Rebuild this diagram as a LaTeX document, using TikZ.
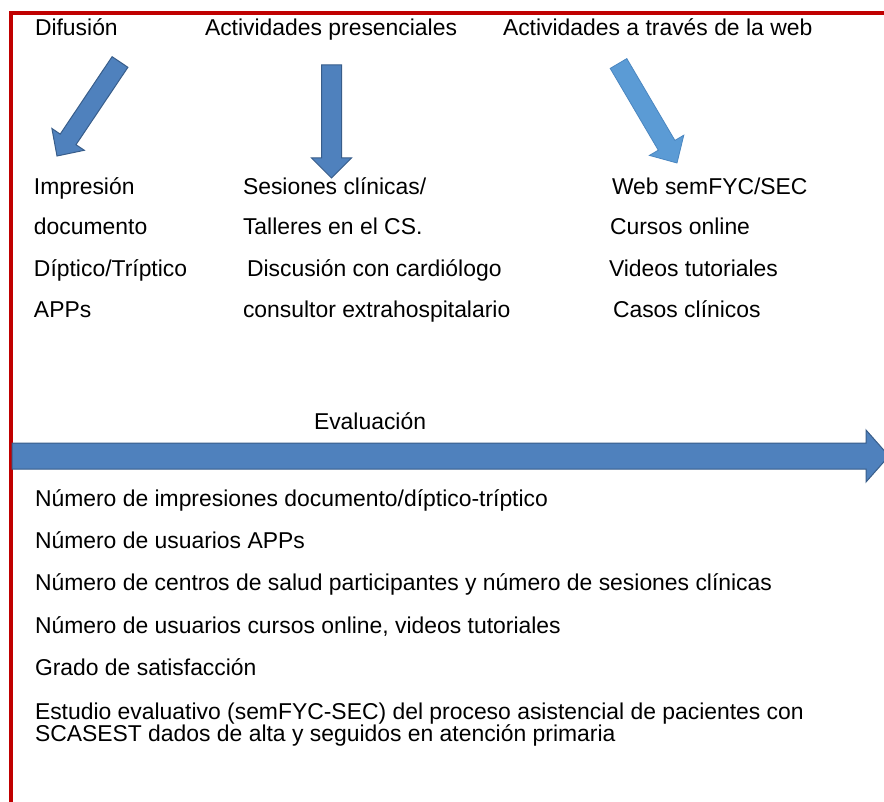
\documentclass[tikz,border=0pt]{standalone}
\usepackage{fontspec}
\setmainfont{Liberation Sans}
\definecolor{frameRed}{HTML}{C00000}
\definecolor{arrFill}{HTML}{4F81BD}
\definecolor{arrLine}{HTML}{385D8A}
\definecolor{webFill}{HTML}{5B9BD5}
\definecolor{webLine}{HTML}{4A86C0}
\tikzset{
  txt/.style={anchor=base west, inner sep=0pt, outer sep=0pt, font=\fontsize{22.9}{27}\selectfont},
  blockarrow/.style={fill=arrFill, draw=arrLine, line width=1pt, line join=miter},
  webarrow/.style={fill=webFill, draw=webLine, line width=0.8pt, line join=miter},
  frameline/.style={draw=frameRed, line width=3.6pt}
}
\begin{document}
\begin{tikzpicture}[x=1pt,y=-1pt]
\useasboundingbox (0,0) rectangle (884,802);
\fill[white] (0,0) rectangle (884,802);
% red frame
\draw[frameline] (11,815) -- (11,13) -- (900,13);
% headers
\node[txt] (h1) at (35,36) {Difusión};
\node[txt] (h2) at (205,36) {Actividades presenciales};
\node[txt] (h3) at (503,36) {Actividades a través de la web};
% arrows
\draw[blockarrow] (127.9,67.3) -- (76.0,144.7) -- (84.3,150.3) -- (57,156) -- (51.9,128.5) -- (60.2,134.1) -- (112.1,56.7) -- cycle;
\draw[blockarrow] (321.5,65) -- (341.5,65) -- (341.5,158) -- (351.5,158) -- (331.5,178) -- (311.5,158) -- (321.5,158) -- cycle;
\draw[webarrow] (626.8,58.6) -- (674.9,140.4) -- (683.8,135.2) -- (677,163) -- (649.4,155.4) -- (658.3,150.2) -- (610.2,68.4) -- cycle;
% column 1
\node[txt] (c11) at (34,195) {Impresión};
\node[txt] (c12) at (34,235) {documento};
\node[txt] (c13) at (34,276.5) {Díptico/Tríptico};
\node[txt] (c14) at (34,317.5) {APPs};
% column 2
\node[txt] (c21) at (243,195) {Sesiones clínicas/};
\node[txt] (c22) at (243,235) {Talleres en el CS.};
\node[txt] (c23) at (247,276.5) {Discusión con cardiólogo};
\node[txt] (c24) at (243,317.5) {consultor extrahospitalario};
% column 3
\node[txt] (c31) at (612,195) {Web semFYC/SEC};
\node[txt] (c32) at (610,235) {Cursos online};
\node[txt] (c33) at (609,276.5) {Videos tutoriales};
\node[txt] (c34) at (613,317.5) {Casos clínicos};
% evaluation arrow
\node[txt] (ev) at (314,429) {Evaluación};
\draw[blockarrow] (12,443) -- (866,443) -- (866,430) -- (889,456) -- (866,482) -- (866,469) -- (12,469) -- cycle;
% list
\node[txt] (l1) at (35,506) {Número de impresiones documento/díptico-tríptico};
\node[txt] (l2) at (35,548) {Número de usuarios APPs};
\node[txt] (l3) at (35,590) {Número de centros de salud participantes y número de sesiones clínicas};
\node[txt] (l4) at (35,633) {Número de usuarios cursos online, videos tutoriales};
\node[txt] (l5) at (35,675) {Grado de satisfacción};
\node[txt] (l6) at (35,719) {Estudio evaluativo (semFYC-SEC) del proceso asistencial de pacientes con};
\node[txt] (l7) at (35,741) {SCASEST dados de alta y seguidos en atención primaria};
\end{tikzpicture}
\end{document}
